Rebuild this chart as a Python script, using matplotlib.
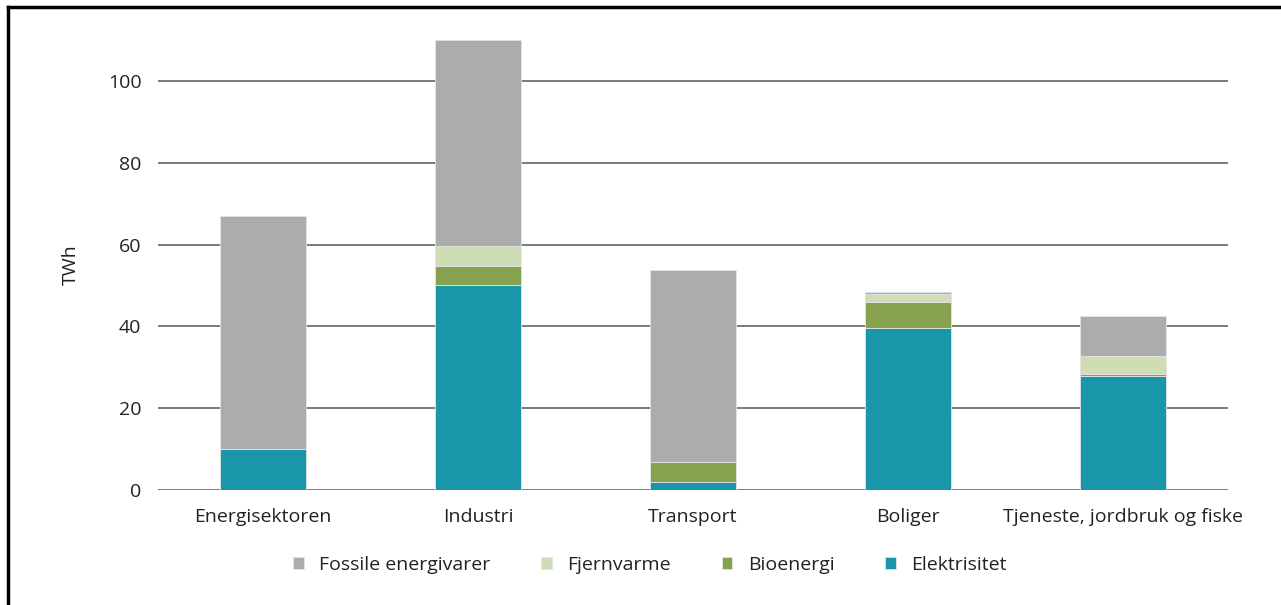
import numpy as np
import matplotlib
matplotlib.use("Agg")
import matplotlib.pyplot as plt
from matplotlib.lines import Line2D

plt.rcParams['font.family'] = ['Open Sans', 'DejaVu Sans']

# data (TWh)
categories = ["Energisektoren", "Industri", "Transport", "Boliger", "Tjeneste, jordbruk og fiske"]
elektrisitet = [10.0, 50.0, 2.0, 39.7, 27.9]
bioenergi = [0.0, 4.8, 4.9, 6.3, 0.5]
fjernvarme = [0.0, 4.9, 0.0, 2.0, 4.4]
fossile = [57.0, 50.3, 46.9, 0.4, 9.8]

series_names = ["Elektrisitet", "Bioenergi", "Fjernvarme", "Fossile energivarer"]
series_colors = ["#1a96a9", "#87a24f", "#cfddb5", "#aaadac"]
y_ticks = [0, 20, 40, 60, 80, 100]

fig = plt.figure(figsize=(12.81, 6.05), dpi=100)
ax = fig.add_axes([158 / 1281, 1 - 490 / 605, (1228 - 158) / 1281, 450 / 605])

x = np.arange(len(categories))
bottom = np.zeros(len(categories))
handles = {}
for name, vals, col in zip(series_names, [elektrisitet, bioenergi, fjernvarme, fossile], series_colors):
    b = ax.bar(x, vals, bottom=bottom, width=0.4, color=col,
               edgecolor="#e4e4e4", linewidth=0.6, zorder=3, label=name)
    handles[name] = b
    bottom += np.array(vals)

for yv in y_ticks:
    ax.axhline(yv, color="#6f6f6f", linewidth=1.3, zorder=1)

ax.set_xlim(-0.49, 4.49)
ax.set_ylim(0, 110)
ax.set_yticks(y_ticks)
ax.set_xticks(x)
ax.set_xticklabels(categories)
ax.tick_params(length=0, labelsize=14, colors="#222222")
ax.tick_params(axis="y", pad=12)
ax.tick_params(axis="x", pad=13)
for s in ax.spines.values():
    s.set_visible(False)
ax.set_ylabel("TWh", fontsize=14, color="#222222", labelpad=20)

order = ["Fossile energivarer", "Fjernvarme", "Bioenergi", "Elektrisitet"]
leg = fig.legend([handles[n] for n in order], order, ncol=4, loc="center",
                 bbox_to_anchor=(650 / 1281, 1 - 565 / 605), frameon=False,
                 fontsize=14, handlelength=0.55, handleheight=0.55,
                 handletextpad=0.8, columnspacing=2.6)
for t in leg.get_texts():
    t.set_color("#222222")

# border lines (top and left)
fig.add_artist(Line2D([7.5 / 1281, 1], [1 - 6.5 / 605, 1 - 6.5 / 605], color="black", linewidth=2.5))
fig.add_artist(Line2D([7.5 / 1281, 7.5 / 1281], [0, 1 - 6.5 / 605], color="black", linewidth=2.5))

fig.savefig("out.png", dpi=100)
